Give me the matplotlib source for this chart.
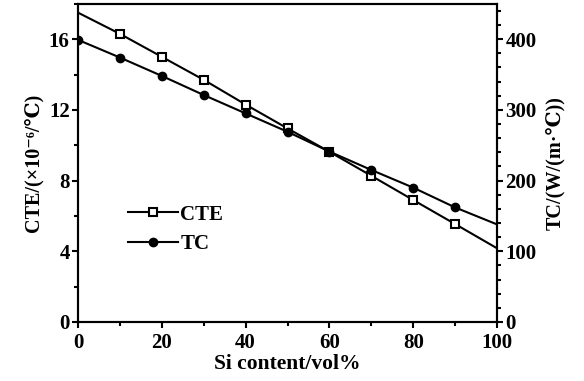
import matplotlib
matplotlib.use("Agg")
import matplotlib.pyplot as plt
from matplotlib.ticker import MultipleLocator

si = [0, 10, 20, 30, 40, 50, 60, 70, 80, 90, 100]
cte = [17.5, 16.3, 15.0, 13.7, 12.3, 10.95, 9.63, 8.27, 6.9, 5.54, 4.17]
tc = [399, 374, 348, 321, 295, 269, 241, 215, 190, 162, 138]

plt.rcParams['font.family'] = ['Liberation Serif', 'DejaVu Serif']
plt.rcParams['font.weight'] = 'bold'

fig = plt.figure(figsize=(5.84, 3.81), dpi=100)
ax = fig.add_axes([0.1336, 0.155, 0.7174, 0.835])
ax2 = ax.twinx()

ax.plot(si, cte, color='black', lw=1.5, marker='s', ms=5.5, mfc='white', mec='black',
        mew=1.5, markevery=list(range(1, 10)), label='CTE', zorder=3)
ax2.plot(si, tc, color='black', lw=1.5, marker='o', ms=6, mfc='black', mec='black',
         markevery=list(range(0, 10)), label='TC', zorder=3)

ax.set_xlim(0, 100)
ax.set_ylim(0, 18)
ax2.set_ylim(0, 450)

ax.xaxis.set_major_locator(MultipleLocator(20))
ax.xaxis.set_minor_locator(MultipleLocator(10))
ax.yaxis.set_major_locator(MultipleLocator(4))
ax.yaxis.set_minor_locator(MultipleLocator(2))
ax2.yaxis.set_major_locator(MultipleLocator(100))
ax2.yaxis.set_minor_locator(MultipleLocator(20))

for a in (ax, ax2):
    for s in a.spines.values():
        s.set_linewidth(1.5)
ax.tick_params(axis='x', which='major', direction='out', length=4, width=1.5, labelsize=15, pad=4)
ax.tick_params(axis='y', which='major', direction='out', length=4, width=1.5, labelsize=15, pad=2)
ax.tick_params(axis='both', which='minor', direction='out', length=3, width=1.5)
ax2.tick_params(axis='y', which='major', direction='out', length=4, width=1.5, labelsize=15, pad=2)
ax2.tick_params(axis='y', which='minor', direction='out', length=3, width=1.5)

ax.set_xlabel('Si content/vol%', fontsize=15.5, fontweight='bold', labelpad=1)
ax.set_ylabel('CTE/(×10⁻⁶/℃)', fontsize=14.5, fontweight='bold', labelpad=4)
ax2.set_ylabel('TC/(W/(m·℃))', fontsize=14.5, fontweight='bold', labelpad=6)

h1, l1 = ax.get_legend_handles_labels()
h2, l2 = ax2.get_legend_handles_labels()
leg = ax2.legend(h1 + h2, l1 + l2, loc='upper left', bbox_to_anchor=(0.1, 0.395),
                 frameon=False, fontsize=15, handlelength=2.4, handletextpad=0.1,
                 labelspacing=0.45, borderaxespad=0)
for t in leg.get_texts():
    t.set_fontweight('bold')

fig.savefig('out.png', dpi=100)
